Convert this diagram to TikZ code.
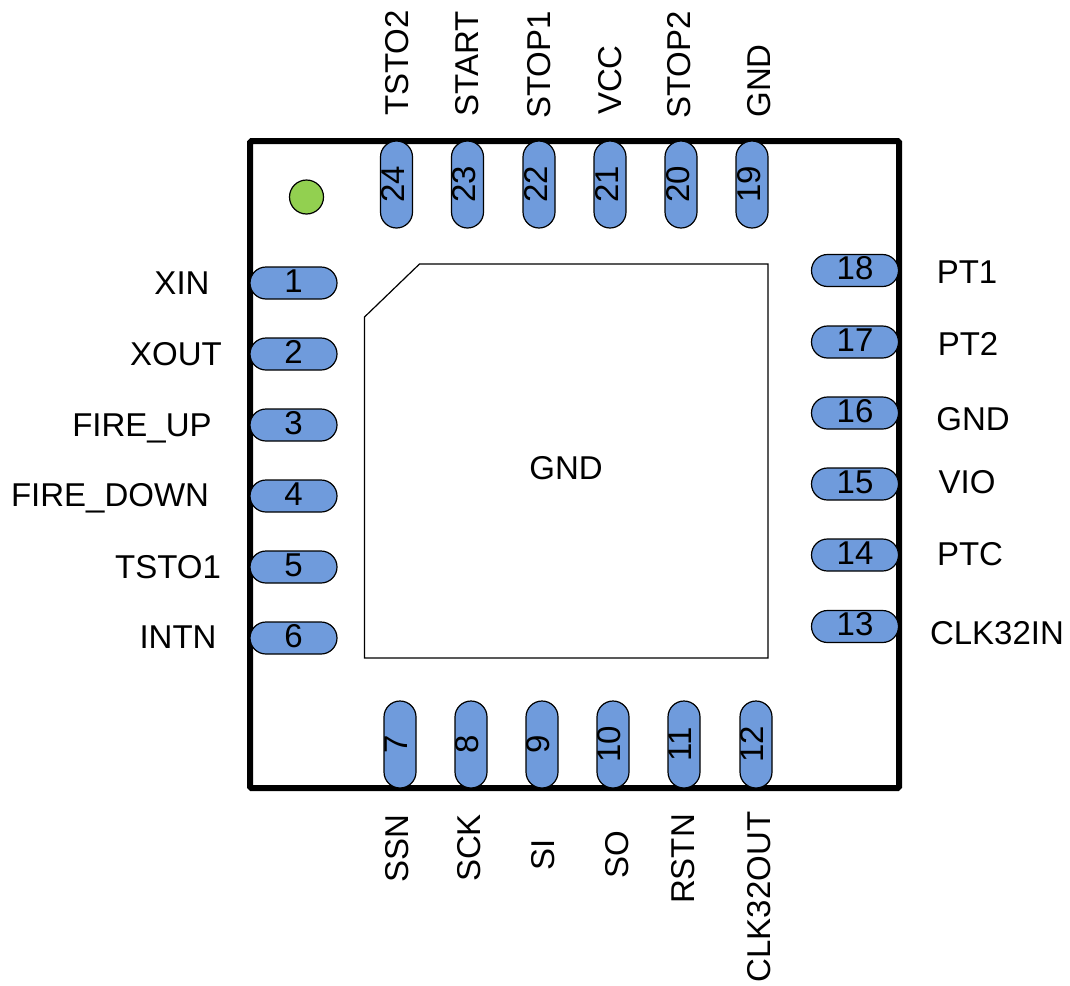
\documentclass[tikz,border=0pt]{standalone}
\usepackage{fontspec}
\setmainfont{Liberation Sans}
\usetikzlibrary{shapes.misc}
\definecolor{pinblue}{HTML}{6F9BDC}
\definecolor{dotgreen}{HTML}{92D050}
\tikzset{
  pinh/.style={rounded rectangle,draw=black,line width=1.2pt,fill=pinblue,minimum width=87pt,minimum height=32pt,inner sep=0pt,font=\fontsize{33}{33}\selectfont,text height=18pt,text depth=0pt},
  pinv/.style={pinh,rotate=90,text height=16pt},
  pinb/.style={pinh,rotate=90,text height=15pt},
  lab/.style={font=\fontsize{33}{33}\selectfont,inner sep=0pt,text height=22pt,text depth=0pt},
  labv/.style={lab,rotate=90}
}
\begin{document}
\begin{tikzpicture}[x=1pt,y=-1pt]
\useasboundingbox (0,0) rectangle (1070,985);
\fill[white] (0,0) rectangle (1070,985);
\node[draw=black,line width=6pt,rounded corners=1.5pt,minimum width=649pt,minimum height=647pt,inner sep=0pt,outer sep=0pt] (body) at (574.5,464.5) {};
\coordinate (padA) at (419.5,264);
\coordinate (padB) at (768,264);
\coordinate (padC) at (768,658);
\coordinate (padD) at (364.5,658);
\coordinate (padE) at (364.5,317);
\draw[line width=1.2pt] (padA) -- (padB) -- (padC) -- (padD) -- (padE) -- cycle;
\node[lab] (padlabel) at (566,468) {GND};
\node[circle,draw=black,line width=1.2pt,fill=dotgreen,minimum size=34pt,inner sep=0pt] (dot) at (306.5,197) {};
% left
\node[pinh] (p1) at (293.5,283) {1};
\node[pinh] (p2) at (293.5,354) {2};
\node[pinh] (p3) at (293.5,425) {3};
\node[pinh] (p4) at (293.5,496) {4};
\node[pinh] (p5) at (293.5,567) {5};
\node[pinh] (p6) at (293.5,638) {6};
% bottom
\node[pinb] (p7) at (400,744.5) {7};
\node[pinb] (p8) at (471,744.5) {8};
\node[pinb] (p9) at (542,744.5) {9};
\node[pinb] (p10) at (613,744.5) {10};
\node[pinb] (p11) at (684,744.5) {11};
\node[pinb] (p12) at (756,744.5) {12};
% right
\node[pinh] (p13) at (855,626.5) {13};
\node[pinh] (p14) at (855,555) {14};
\node[pinh] (p15) at (855,484) {15};
\node[pinh] (p16) at (855,413) {16};
\node[pinh] (p17) at (855,342) {17};
\node[pinh] (p18) at (855,270.5) {18};
% top
\node[pinv] (p19) at (752,184.5) {19};
\node[pinv] (p20) at (681,184.5) {20};
\node[pinv] (p21) at (610,184.5) {21};
\node[pinv] (p22) at (539,184.5) {22};
\node[pinv] (p23) at (467.5,184.5) {23};
\node[pinv] (p24) at (396.5,184.5) {24};
% left labels
\node[lab] (l1) at (182,283) {XIN};
\node[lab] (l2) at (176,354) {XOUT};
\node[lab] (l3) at (142,425) {FIRE\_UP};
\node[lab] (l4) at (110,495) {FIRE\_DOWN};
\node[lab] (l5) at (168,567) {TSTO1};
\node[lab] (l6) at (178,637) {INTN};
% bottom labels
\node[labv] (l7) at (397,849) {SSN};
\node[labv] (l8) at (469,848) {SCK};
\node[labv] (l9) at (543,855) {SI};
\node[labv] (l10) at (617,855) {SO};
\node[labv] (l11) at (683,859) {RSTN};
\node[labv] (l12) at (759,897) {CLK32OUT};
% right labels
\node[lab] (l13) at (997,633) {CLK32IN};
\node[lab] (l14) at (970,554) {PTC};
\node[lab] (l15) at (967,482) {VIO};
\node[lab] (l16) at (973,419) {GND};
\node[lab] (l17) at (968,344) {PT2};
\node[lab] (l18) at (967,272) {PT1};
% top labels
\node[labv] (l19) at (759,81) {GND};
\node[labv] (l20) at (679,65) {STOP2};
\node[labv] (l21) at (610,80) {VCC};
\node[labv] (l22) at (539,65) {STOP1};
\node[labv] (l23) at (467,64) {START};
\node[labv] (l24) at (397,63) {TSTO2};
\end{tikzpicture}
\end{document}
